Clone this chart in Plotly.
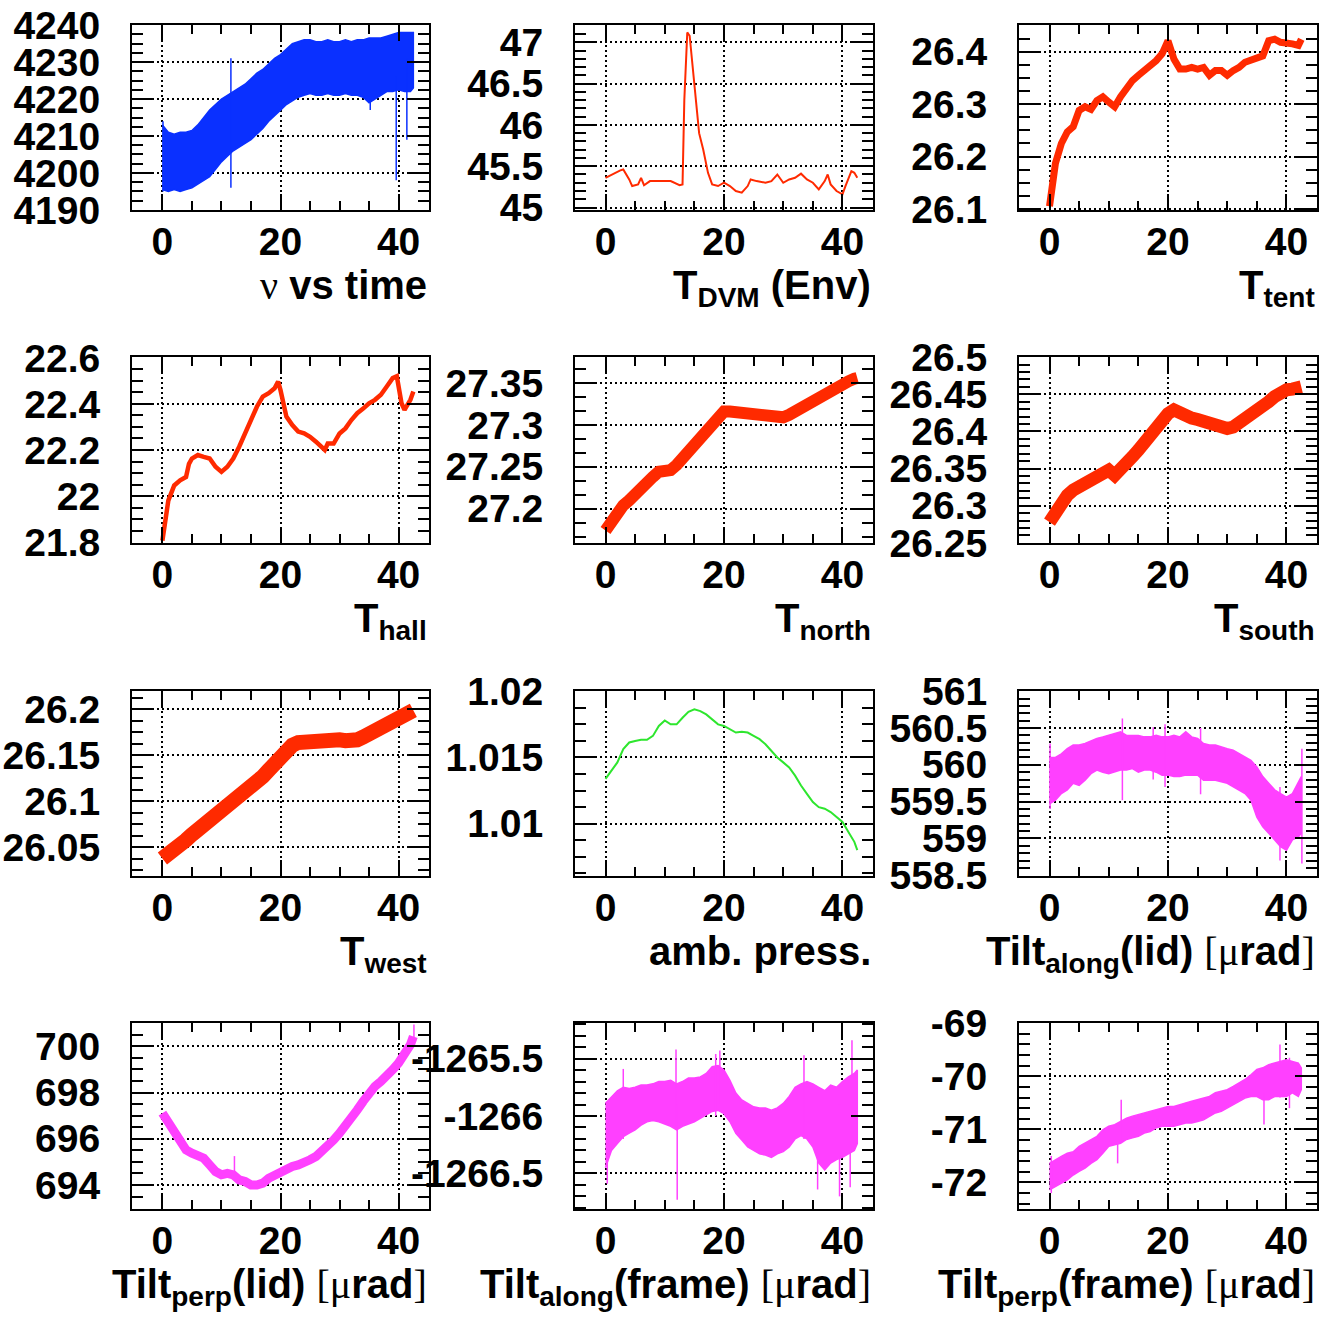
import plotly.graph_objects as go

# ---------------- data (time in hours) ----------------
hours = [0, 1, 2, 3, 4, 5, 6, 7, 8, 9, 10, 11, 12, 13, 14, 15, 16, 17, 18, 19, 20,
         21, 22, 23, 24, 25, 26, 27, 28, 29, 30, 31, 32, 33, 34, 35, 36, 37, 38, 39,
         40, 41, 42, 42.5]

# nu vs time: band envelope + isolated spikes
nu_hi = [4213, 4211, 4210.5, 4211, 4211, 4211.5, 4213, 4215, 4217, 4218.5, 4220, 4221,
         4222, 4223, 4224, 4225.5, 4227, 4228, 4229.5, 4231, 4232, 4233.5, 4235, 4235.5,
         4236, 4236, 4235.5, 4235.5, 4236, 4235.5, 4235.5, 4236, 4235.5, 4236, 4236,
         4236.5, 4236.5, 4236.5, 4237, 4237.5, 4238, 4238, 4238, 4238]
nu_lo = [4195.5, 4195, 4195.5, 4195, 4195.5, 4196, 4197, 4198, 4199, 4201, 4203, 4204.5,
         4206, 4207, 4208, 4209, 4210.5, 4212, 4214, 4215.5, 4217, 4218.5, 4219.5, 4220.5,
         4221, 4221.5, 4221, 4221, 4221.5, 4221, 4221, 4221.5, 4221, 4221, 4220.5, 4219,
         4220, 4221, 4222, 4222, 4222.5, 4222, 4222, 4223]
nu_spike_t = [0.1, 11.6, 35.2, 39.6, 41.4]
nu_spike_lo = [4195, 4196, 4217, 4198, 4209]
nu_spike_hi = [4214, 4231, 4222, 4226, 4231]

# T_DVM (Env)
dvm_t = [0, 1, 2.5, 3, 4, 4.5, 5.5, 6, 6.5, 7.5, 9, 11, 12.5, 13, 13.3, 13.8, 14.2, 15,
         15.8, 16.5, 17.3, 18, 19, 20, 21, 22, 23, 24, 24.5, 25.5, 27, 28, 29, 30, 31,
         32, 33, 34, 35, 36, 37, 37.5, 38, 39, 40, 40.5, 41.5, 42, 42.5]
dvm = [45.36, 45.40, 45.45, 45.46, 45.34, 45.26, 45.28, 45.36, 45.27, 45.32, 45.32, 45.32,
       45.27, 45.28, 46.30, 47.12, 47.08, 46.50, 45.90, 45.70, 45.42, 45.28, 45.26, 45.30,
       45.26, 45.20, 45.18, 45.26, 45.34, 45.32, 45.30, 45.32, 45.40, 45.30, 45.34, 45.36,
       45.41, 45.34, 45.30, 45.22, 45.32, 45.40, 45.28, 45.20, 45.16, 45.26, 45.44, 45.42,
       45.36]

# T_tent
tent_t = [0, 0.5, 1, 2, 3, 4, 5, 6, 7, 8, 9, 10, 11, 12, 13, 14, 15, 16, 17, 18, 19, 20,
          21, 22, 23, 24, 25, 26, 27, 28, 29, 30, 31, 32, 33, 34, 35, 36, 37, 38, 39, 40,
          41, 42, 42.5]
tent = [26.105, 26.156, 26.187, 26.225, 26.247, 26.257, 26.288, 26.295, 26.290, 26.307,
        26.314, 26.304, 26.295, 26.314, 26.332, 26.345, 26.355, 26.364, 26.373, 26.383,
        26.396, 26.421, 26.386, 26.367, 26.367, 26.370, 26.367, 26.370, 26.355, 26.364,
        26.364, 26.355, 26.364, 26.370, 26.380, 26.383, 26.386, 26.392, 26.421, 26.424,
        26.418, 26.418, 26.415, 26.412, 26.424]

# T_hall
hall_t = [0, 0.5, 1, 2, 3, 4, 4.5, 5, 6, 7, 8, 9, 10, 11, 12, 13, 14, 15, 16, 17, 18, 19,
          19.6, 20, 21, 22, 23, 24, 25, 26, 27, 27.5, 28, 29, 30, 31, 32, 33, 34, 35, 36,
          37, 38, 39, 39.7, 40.5, 41, 42, 42.5]
hall = [21.806, 21.91, 21.98, 22.046, 22.068, 22.083, 22.14, 22.163, 22.178, 22.17,
        22.163, 22.127, 22.105, 22.127, 22.163, 22.214, 22.272, 22.33, 22.388, 22.432,
        22.447, 22.468, 22.497, 22.46, 22.345, 22.308, 22.28, 22.272, 22.257, 22.236,
        22.214, 22.20, 22.228, 22.228, 22.272, 22.294, 22.33, 22.36, 22.38, 22.403,
        22.418, 22.44, 22.476, 22.512, 22.52, 22.403, 22.374, 22.418, 22.454]

# T_north, T_south, T_west (sampled on hours)
north = [27.174, 27.186, 27.196, 27.204, 27.21, 27.218, 27.226, 27.234, 27.238, 27.244,
         27.246, 27.246, 27.252, 27.26, 27.268, 27.276, 27.284, 27.294, 27.30, 27.308,
         27.316, 27.316, 27.315, 27.314, 27.316, 27.314, 27.312, 27.312, 27.311, 27.309,
         27.309, 27.312, 27.316, 27.322, 27.326, 27.33, 27.334, 27.34, 27.344, 27.346,
         27.35, 27.352, 27.355, 27.356]
south = [26.278, 26.29, 26.308, 26.314, 26.321, 26.326, 26.33, 26.335, 26.339, 26.344,
         26.348, 26.341, 26.348, 26.357, 26.366, 26.375, 26.386, 26.397, 26.406, 26.415,
         26.424, 26.429, 26.424, 26.419, 26.418, 26.416, 26.414, 26.409, 26.406, 26.406,
         26.404, 26.406, 26.411, 26.418, 26.424, 26.429, 26.433, 26.44, 26.447, 26.454,
         26.456, 26.457, 26.46, 26.46]
west = [26.038, 26.042, 26.047, 26.053, 26.058, 26.064, 26.069, 26.075, 26.08, 26.085,
        26.091, 26.094, 26.098, 26.102, 26.109, 26.114, 26.12, 26.127, 26.134, 26.141,
        26.152, 26.157, 26.161, 26.164, 26.165, 26.166, 26.167, 26.167, 26.168, 26.167,
        26.167, 26.166, 26.165, 26.167, 26.17, 26.173, 26.176, 26.179, 26.183, 26.187,
        26.191, 26.195, 26.197, 26.199]

# ambient pressure
press = [1.01338, 1.0140, 1.01463, 1.01563, 1.01613, 1.01625, 1.01633, 1.01633, 1.01663,
         1.01738, 1.0178, 1.0175, 1.0175, 1.018, 1.01845, 1.01863, 1.0185, 1.01825,
         1.01788, 1.0175, 1.01738, 1.01713, 1.01688, 1.01695, 1.01688, 1.01663, 1.01638,
         1.016, 1.0155, 1.015, 1.01463, 1.01425, 1.01363, 1.01288, 1.01225, 1.01163,
         1.01125, 1.01113, 1.01088, 1.0105, 1.01013, 1.00938, 1.00863, 1.008]

# Tilt along (lid)
lid_along_hi = [560.10, 560.10, 560.15, 560.22, 560.27, 560.27, 560.29, 560.33, 560.36,
                560.38, 560.40, 560.42, 560.45, 560.40, 560.40, 560.40, 560.38, 560.38,
                560.40, 560.38, 560.38, 560.40, 560.38, 560.45, 560.38, 560.36, 560.29,
                560.27, 560.27, 560.24, 560.22, 560.20, 560.15, 560.11, 560.06, 559.97,
                559.84, 559.75, 559.66, 559.61, 559.56, 559.61, 559.75, 559.84]
lid_along_lo = [559.47, 559.52, 559.61, 559.66, 559.75, 559.72, 559.79, 559.88, 559.93,
                559.90, 559.88, 559.90, 559.93, 559.93, 559.95, 559.90, 559.93, 559.93,
                559.90, 559.86, 559.86, 559.84, 559.84, 559.86, 559.86, 559.86, 559.79,
                559.79, 559.79, 559.77, 559.75, 559.70, 559.66, 559.61, 559.52, 559.29,
                559.16, 559.07, 558.98, 558.89, 558.84, 558.98, 559.02, 559.07]
lid_along_spike_t = [0.1, 12.3, 17.5, 19.5, 25.5, 38.9, 42.6]
lid_along_spike_lo = [559.40, 559.52, 559.80, 559.70, 559.60, 558.70, 558.66]
lid_along_spike_hi = [560.29, 560.63, 560.51, 560.55, 560.50, 559.70, 560.22]

# Tilt perp (lid)
lid_perp = [697.11, 696.68, 696.32, 695.80, 695.52, 695.38, 695.30, 695.16, 694.87, 694.58,
            694.44, 694.50, 694.44, 694.22, 694.15, 694.00, 694.00, 694.08, 694.29, 694.44,
            694.58, 694.73, 694.80, 694.87, 694.94, 695.09, 695.23, 695.45, 695.66, 695.95,
            696.24, 696.53, 696.89, 697.25, 697.62, 697.98, 698.27, 698.48, 698.70, 698.99,
            699.28, 699.64, 700.07, 700.43]
lid_perp_spike_t = [12.2, 42.6]
lid_perp_spike_lo = [694.4, 700.2]
lid_perp_spike_hi = [695.25, 700.95]

# Tilt along (frame)
frame_along_hi = [-1265.89, -1265.83, -1265.78, -1265.75, -1265.76, -1265.75, -1265.73,
                  -1265.73, -1265.72, -1265.70, -1265.70, -1265.69, -1265.72, -1265.70,
                  -1265.67, -1265.67, -1265.66, -1265.63, -1265.57, -1265.56, -1265.60,
                  -1265.69, -1265.80, -1265.86, -1265.89, -1265.92, -1265.93, -1265.93,
                  -1265.95, -1265.93, -1265.89, -1265.83, -1265.75, -1265.72, -1265.70,
                  -1265.72, -1265.75, -1265.78, -1265.73, -1265.75, -1265.70, -1265.66,
                  -1265.63, -1265.60]
frame_along_lo = [-1266.45, -1266.30, -1266.24, -1266.18, -1266.15, -1266.12, -1266.08,
                  -1266.05, -1266.04, -1266.05, -1266.07, -1266.09, -1266.12, -1266.09,
                  -1266.07, -1266.05, -1266.02, -1265.99, -1265.96, -1265.95, -1265.98,
                  -1266.05, -1266.15, -1266.21, -1266.27, -1266.30, -1266.33, -1266.34,
                  -1266.36, -1266.33, -1266.31, -1266.27, -1266.20, -1266.17, -1266.20,
                  -1266.27, -1266.41, -1266.47, -1266.41, -1266.38, -1266.36, -1266.33,
                  -1266.30, -1266.24]
frame_along_spike_t = [0.3, 3.0, 11.9, 12.1, 18.6, 19.3, 33.5, 35.8, 39.5, 41.3, 41.6]
frame_along_spike_lo = [-1266.59, -1266.20, -1266.10, -1266.73, -1266.00, -1265.90,
                        -1266.20, -1266.64, -1266.70, -1266.62, -1266.20]
frame_along_spike_hi = [-1265.95, -1265.59, -1265.42, -1265.90, -1265.46, -1265.43,
                        -1265.47, -1265.80, -1265.90, -1265.70, -1265.34]

# Tilt perp (frame)
frame_perp_hi = [-71.64, -71.57, -71.51, -71.45, -71.42, -71.32, -71.26, -71.19, -71.13,
                 -71.01, -70.94, -70.91, -70.85, -70.79, -70.75, -70.72, -70.69, -70.66,
                 -70.63, -70.60, -70.57, -70.57, -70.53, -70.50, -70.47, -70.44, -70.41,
                 -70.38, -70.31, -70.28, -70.25, -70.19, -70.13, -70.06, -69.97, -69.87,
                 -69.84, -69.78, -69.75, -69.72, -69.69, -69.72, -69.75, -69.84]
frame_perp_lo = [-72.14, -72.08, -72.01, -71.95, -71.86, -71.79, -71.73, -71.64, -71.57,
                 -71.45, -71.32, -71.29, -71.26, -71.19, -71.16, -71.13, -71.07, -71.04,
                 -70.97, -70.94, -70.94, -70.94, -70.91, -70.88, -70.88, -70.85, -70.82,
                 -70.75, -70.69, -70.66, -70.60, -70.53, -70.47, -70.41, -70.38, -70.38,
                 -70.44, -70.44, -70.38, -70.38, -70.38, -70.31, -70.38, -70.25]
frame_perp_spike_t = [0.3, 11.5, 12.1, 36.2, 38.9, 40.5]
frame_perp_spike_lo = [-72.20, -71.64, -71.20, -70.91, -70.40, -70.60]
frame_perp_spike_hi = [-71.50, -71.00, -70.44, -70.30, -69.40, -69.65]

# ---------------- styling ----------------
BLUE = "#0a30ff"
RED = "#ff2a00"
GREEN = "#2ee62e"
MAGENTA = "#ff40ff"
SANS = "Liberation Sans"
SERIF = "Liberation Serif"
FS = 39
TITLE_FS = 40

W, H = 1324, 1320
col_px = [(132, 429), (575, 873), (1019, 1317)]
row_px = [(25, 210), (357, 543), (691, 876), (1023, 1209)]
X_RANGE = [-5.15, 45.15]


def serif(s):
    return f'<span style="font-family:{SERIF};font-weight:normal">{s}</span>'


MU = serif("[&#956;") + "rad" + serif("]")

panels = [
    dict(kind="band", t=hours, hi=nu_hi, lo=nu_lo,
         spikes=(nu_spike_t, nu_spike_lo, nu_spike_hi), color=BLUE,
         yr=[4189.98, 4240.02], yt=[4190, 4200, 4210, 4220, 4230, 4240],
         ytext=["4190", "4200", "4210", "4220", "4230", "4240"], minor=2.5,
         title=serif("&#957;") + " vs time"),
    dict(kind="line", t=dvm_t, y=dvm, width=2, color=RED,
         yr=[44.97, 47.21], yt=[45, 45.5, 46, 46.5, 47],
         ytext=["45", "45.5", "46", "46.5", "47"], minor=0.1,
         title="T<sub>DVM</sub> (Env)"),
    dict(kind="line", t=tent_t, y=tent, width=7, color=RED,
         yr=[26.098, 26.451], yt=[26.1, 26.2, 26.3, 26.4],
         ytext=["26.1", "26.2", "26.3", "26.4"], minor=0.025,
         title="T<sub>tent</sub>"),
    dict(kind="line", t=hall_t, y=hall, width=4.5, color=RED,
         yr=[21.796, 22.604], yt=[21.8, 22.0, 22.2, 22.4, 22.6],
         ytext=["21.8", "22", "22.2", "22.4", "22.6"], minor=0.05,
         title="T<sub>hall</sub>"),
    dict(kind="line", t=hours, y=north, width=12, color=RED,
         yr=[27.159, 27.381], yt=[27.2, 27.25, 27.3, 27.35],
         ytext=["27.2", "27.25", "27.3", "27.35"], minor=0.05 / 3,
         title="T<sub>north</sub>"),
    dict(kind="line", t=hours, y=south, width=13, color=RED,
         yr=[26.2498, 26.5002], yt=[26.25, 26.3, 26.35, 26.4, 26.45, 26.5],
         ytext=["26.25", "26.3", "26.35", "26.4", "26.45", "26.5"], minor=0.01,
         title="T<sub>south</sub>"),
    dict(kind="line", t=hours, y=west, width=15, color=RED,
         yr=[26.019, 26.22], yt=[26.05, 26.1, 26.15, 26.2],
         ytext=["26.05", "26.1", "26.15", "26.2"], minor=0.0125,
         title="T<sub>west</sub>"),
    dict(kind="line", t=hours, y=press, width=2, color=GREEN,
         yr=[1.00605, 1.02002], yt=[1.01, 1.015, 1.02],
         ytext=["1.01", "1.015", "1.02"], minor=0.00125,
         title="amb. press."),
    dict(kind="band", t=hours, hi=lid_along_hi, lo=lid_along_lo,
         spikes=(lid_along_spike_t, lid_along_spike_lo, lid_along_spike_hi), color=MAGENTA,
         yr=[558.49, 561.003], yt=[558.5, 559, 559.5, 560, 560.5, 561],
         ytext=["558.5", "559", "559.5", "560", "560.5", "561"], minor=0.1,
         title="Tilt<sub>along</sub>(lid) " + MU),
    dict(kind="line", t=hours, y=lid_perp, width=9, color=MAGENTA,
         spikes=(lid_perp_spike_t, lid_perp_spike_lo, lid_perp_spike_hi),
         yr=[692.96, 701.01], yt=[694, 696, 698, 700],
         ytext=["694", "696", "698", "700"], minor=0.5,
         title="Tilt<sub>perp</sub>(lid) " + MU),
    dict(kind="band", t=hours, hi=frame_along_hi, lo=frame_along_lo,
         spikes=(frame_along_spike_t, frame_along_spike_lo, frame_along_spike_hi),
         color=MAGENTA,
         yr=[-1266.81, -1265.19], yt=[-1266.5, -1266, -1265.5],
         ytext=["-1266.5", "-1266", "-1265.5"], minor=0.1,
         title="Tilt<sub>along</sub>(frame) " + MU),
    dict(kind="band", t=hours, hi=frame_perp_hi, lo=frame_perp_lo,
         spikes=(frame_perp_spike_t, frame_perp_spike_lo, frame_perp_spike_hi),
         color=MAGENTA,
         yr=[-72.5, -68.995], yt=[-72, -71, -70, -69],
         ytext=["-72", "-71", "-70", "-69"], minor=0.2,
         title="Tilt<sub>perp</sub>(frame) " + MU),
]

fig = go.Figure()
layout = dict(
    width=W, height=H, margin=dict(l=0, r=0, t=0, b=0, autoexpand=False),
    paper_bgcolor="white", plot_bgcolor="white", showlegend=False,
    font=dict(family=SANS, size=FS, color="black", weight="bold"),
    annotations=[],
)

tick_font = dict(family=SANS, size=FS, color="black", weight="bold")

for i, p in enumerate(panels):
    r, c = divmod(i, 3)
    x0, x1 = col_px[c]
    y0, y1 = row_px[r]
    sfx = "" if i == 0 else str(i + 1)
    xref, yref = "x" + sfx, "y" + sfx

    if p["kind"] == "band":
        fig.add_trace(go.Scatter(
            x=list(p["t"]) + list(p["t"])[::-1],
            y=list(p["hi"]) + list(p["lo"])[::-1],
            mode="lines", fill="toself", fillcolor=p["color"],
            line=dict(color=p["color"], width=1.5),
            xaxis=xref, yaxis=yref, hoverinfo="skip"))
    else:
        fig.add_trace(go.Scatter(
            x=p["t"], y=p["y"], mode="lines",
            line=dict(color=p["color"], width=p["width"]),
            xaxis=xref, yaxis=yref, hoverinfo="skip"))

    if "spikes" in p:
        st, sl, sh = p["spikes"]
        xs, ys = [], []
        for t, lo, hi in zip(st, sl, sh):
            xs += [t, t, None]
            ys += [lo, hi, None]
        fig.add_trace(go.Scatter(
            x=xs, y=ys, mode="lines", line=dict(color=p["color"], width=1.5),
            xaxis=xref, yaxis=yref, hoverinfo="skip"))

    common = dict(
        showline=True, linecolor="black", linewidth=2, mirror="allticks",
        ticks="inside", tickcolor="black", tickwidth=2, automargin=False,
        showgrid=True, gridcolor="black", gridwidth=1.5, griddash="2px,3px",
        zeroline=False, tickfont=tick_font, tickmode="array",
    )
    layout["xaxis" + sfx] = dict(
        common, domain=[x0 / W, x1 / W], anchor=yref, range=X_RANGE,
        tickvals=[0, 20, 40], ticktext=["0", "20", "40"], ticklen=16,
        ticklabelstandoff=-4,
        minor=dict(tickmode="linear", tick0=0, dtick=5, ticks="inside",
                   ticklen=9, tickwidth=2, tickcolor="black", showgrid=False),
    )
    layout["yaxis" + sfx] = dict(
        common, domain=[1 - y1 / H, 1 - y0 / H], anchor=xref, range=p["yr"],
        tickvals=p["yt"], ticktext=p["ytext"], ticklen=22,
        ticklabelstandoff=22,
        minor=dict(tickmode="linear", tick0=p["yt"][0], dtick=p["minor"], ticks="inside",
                   ticklen=11, tickwidth=2, tickcolor="black", showgrid=False),
    )

    layout["annotations"].append(dict(
        xref="paper", yref="paper", x=x1 / W, xanchor="right",
        y=1 - (y1 + 51) / H, yanchor="top", showarrow=False,
        text=p["title"], font=dict(family=SANS, size=TITLE_FS, color="black", weight="bold"),
    ))

fig.update_layout(**layout)
fig.write_html("out.html")
